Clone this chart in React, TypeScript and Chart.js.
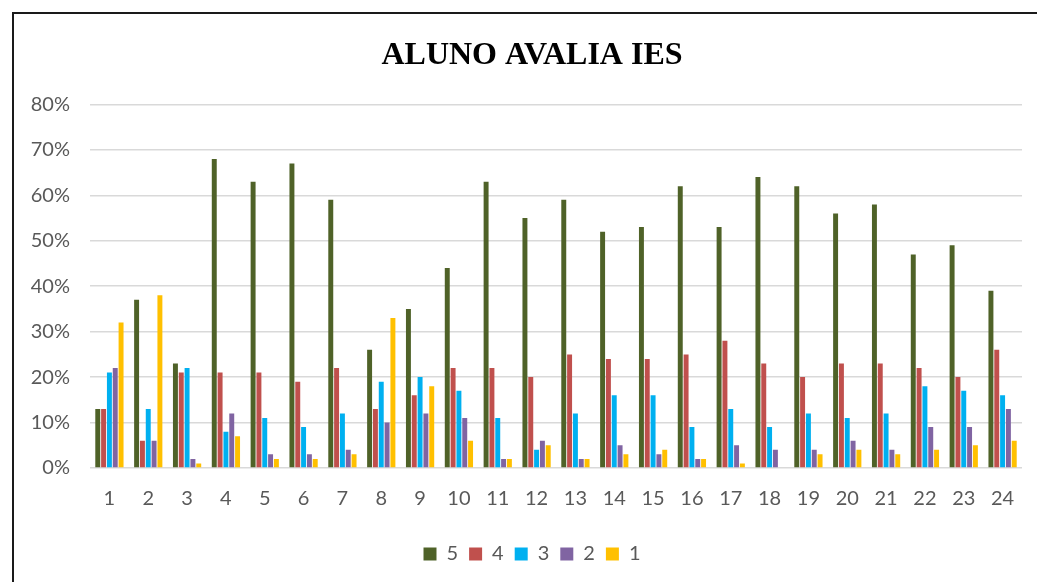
import React, { useEffect, useRef } from "react";
import { Chart, registerables } from "chart.js";

Chart.register(...registerables);

const categories = ["1","2","3","4","5","6","7","8","9","10","11","12","13","14","15","16","17","18","19","20","21","22","23","24"];
const seriesNames = ["5", "4", "3", "2", "1"];
const s5 = [13,37,23,68,63,67,59,26,35,44,63,55,59,52,53,62,53,64,62,56,58,47,49,39];
const s4 = [13,6,21,21,21,19,22,13,16,22,22,20,25,24,24,25,28,23,20,23,23,22,20,26];
const s3 = [21,13,22,8,11,9,12,19,20,17,11,4,12,16,16,9,13,9,12,11,12,18,17,16];
const s2 = [22,6,2,12,3,3,4,10,12,11,2,6,2,5,3,2,5,4,4,6,4,9,9,13];
const s1 = [32,38,1,7,2,2,3,33,18,6,2,5,2,3,4,2,1,0,3,4,3,4,5,6];
const colors = ["#4f6228", "#c0504d", "#00b0f0", "#8064a2", "#ffc000"];
const yTicks = [0, 10, 20, 30, 40, 50, 60, 70, 80];

const FONT = "Lato, 'Open Sans', sans-serif";

export default function App() {
  const ref = useRef<HTMLCanvasElement | null>(null);
  useEffect(() => {
    document.documentElement.style.overflow = "hidden";
    document.body.style.overflow = "hidden";
    const ctx = ref.current!;
    const all = [s5, s4, s3, s2, s1];
    const chart = new Chart(ctx, {
      type: "bar",
      data: {
        labels: categories,
        datasets: all.map((d, i) => ({
          label: seriesNames[i],
          data: d,
          backgroundColor: colors[i],
          borderWidth: 0,
          barPercentage: 0.85,
          categoryPercentage: 0.75,
        })),
      },
      options: {
        animation: false,
        responsive: false,
        layout: { padding: { left: 0, right: 0, top: 0, bottom: 16 } },
        plugins: {
          title: {
            display: true,
            text: "ALUNO AVALIA IES",
            color: "#000",
            font: { family: "'Liberation Serif', serif", size: 32, weight: "bold" },
            padding: { top: 23, bottom: 29 },
          },
          legend: {
            position: "bottom",
            labels: {
              boxWidth: 13,
              boxHeight: 13,
              padding: 11,
              color: "#595959",
              font: { family: FONT, size: 20 },
            },
          },
          tooltip: { enabled: false },
        },
        scales: {
          x: {
            grid: { display: false, drawTicks: false },
            border: { display: false },
            ticks: {
              color: "#595959",
              padding: 19,
              font: { family: FONT, size: 20 },
            },
            afterFit: (s: any) => { s.height = 65; },
          },
          y: {
            min: 0,
            max: 80,
            afterBuildTicks: (s: any) => { s.ticks = yTicks.map((v) => ({ value: v })); },
            grid: { color: "#d9d9d9", lineWidth: 1.5, drawTicks: false },
            border: { display: false },
            ticks: {
              color: "#595959",
              padding: 20,
              font: { family: FONT, size: 20 },
              callback: (v: any) => v + "%",
            },
            afterFit: (s: any) => { s.width = 76; },
          },
          yRight: {
            position: "right",
            min: 0,
            max: 80,
            grid: { display: false, drawTicks: false },
            border: { display: false },
            ticks: { display: false },
            afterFit: (s: any) => { s.width = 28; },
          },
        },
      },
    });
    return () => chart.destroy();
  }, []);
  return (
    <div
      style={{
        position: "absolute",
        left: 12,
        top: 12,
        width: 1040,
        height: 580,
        border: "2px solid #1a1a1a",
        boxSizing: "border-box",
        background: "#fff",
      }}
    >
      <canvas ref={ref} width={1036} height={576} style={{ display: "block" }} />
    </div>
  );
}
